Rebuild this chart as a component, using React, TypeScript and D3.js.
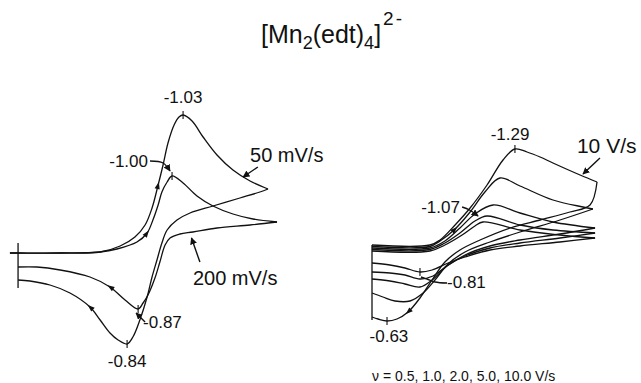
import React, { useEffect, useRef } from 'react'
import * as d3 from 'd3'

type Pt = [number, number]

// [potential (V), current (arb. units, cathodic up)]

// left panel, 50 mV/s (large wave)
const fwd50: Pt[] = [
  [-0.436, 0], [-0.464, 0], [-0.609, 0], [-0.747, 0.5], [-0.816, 3.5], [-0.867, 8],
  [-0.902, 14], [-0.926, 22.5], [-0.947, 34], [-0.964, 44], [-0.981, 55], [-1.002, 64],
  [-1.019, 68], [-1.033, 69], [-1.064, 66], [-1.102, 58], [-1.15, 49], [-1.205, 41.5],
  [-1.264, 36], [-1.326, 32],
]
const rev50: Pt[] = [
  [-1.326, 32], [-1.298, 30.5], [-1.229, 27.5], [-1.136, 23.5], [-1.057, 20], [-1.012, 16.5],
  [-0.978, 11.5], [-0.96, 5], [-0.943, -3.5], [-0.926, -12], [-0.909, -22], [-0.884, -33.5],
  [-0.86, -42], [-0.84, -45.5], [-0.809, -43.5], [-0.781, -40], [-0.747, -33.5], [-0.712, -27],
  [-0.643, -20], [-0.574, -16], [-0.505, -14], [-0.464, -13.5],
]

// left panel, 200 mV/s
const fwd200: Pt[] = [
  [-0.436, 0], [-0.464, 0], [-0.609, 0], [-0.747, 0.5], [-0.805, 2], [-0.874, 5.5],
  [-0.909, 10], [-0.929, 16.5], [-0.947, 24], [-0.96, 30.5], [-0.978, 35.5], [-0.995, 38.5],
  [-1.033, 35], [-1.081, 28.5], [-1.136, 23.5], [-1.205, 19.5], [-1.274, 17], [-1.357, 15.5],
]
const rev200: Pt[] = [
  [-1.357, 15.5], [-1.264, 14], [-1.15, 12.5], [-1.067, 10.5], [-1.022, 9.5], [-0.988, 7.5],
  [-0.971, 4], [-0.953, -4.5], [-0.936, -12.5], [-0.912, -21], [-0.895, -25], [-0.878, -28],
  [-0.833, -23.5], [-0.781, -17], [-0.712, -12], [-0.609, -8.5], [-0.529, -7], [-0.464, -7],
]

// right panel, scan rates 0.5 ... 10 V/s
const fwd10: Pt[] = [
  [-0.55, 4], [-0.847, 4], [-0.899, 6.5], [-0.976, 14], [-1.053, 22.5], [-1.14, 34],
  [-1.222, 46.5], [-1.283, 52], [-1.345, 50.5], [-1.412, 48], [-1.478, 45], [-1.617, 39],
  [-1.704, 35.5],
]
const rev10: Pt[] = [
  [-1.704, 35.5], [-1.668, 24], [-1.565, 20.5], [-1.412, 16.5], [-1.258, 12.5], [-1.104, 6.5],
  [-1.001, 1.5], [-0.924, -4.5], [-0.858, -13.5], [-0.796, -22.5], [-0.735, -29.5], [-0.678, -33],
  [-0.627, -34], [-0.581, -33], [-0.55, -32],
]
const fwd5: Pt[] = [
  [-0.55, 3.25], [-0.847, 3.25], [-0.899, 6], [-0.976, 12], [-1.053, 20.5], [-1.129, 30.5],
  [-1.206, 37.5], [-1.309, 33.5], [-1.478, 26.5], [-1.632, 23], [-1.683, 22],
]
const rev5: Pt[] = [
  [-1.683, 22], [-1.514, 16.5], [-1.309, 10.5], [-1.155, 5.5], [-1.027, 0.5], [-0.94, -5.5],
  [-0.873, -13.5], [-0.812, -20], [-0.745, -24], [-0.668, -24], [-0.606, -22], [-0.55, -20],
]
const fwd2: Pt[] = [
  [-0.55, 2.5], [-0.847, 2.5], [-0.924, 6], [-1.001, 12.5], [-1.078, 19.5], [-1.171, 24],
  [-1.309, 20], [-1.478, 15.5], [-1.694, 12.5],
]
const rev2: Pt[] = [
  [-1.694, 12.5], [-1.514, 9.5], [-1.309, 6.5], [-1.155, 3.5], [-1.027, -1], [-0.935, -6.5],
  [-0.858, -13.5], [-0.796, -17], [-0.719, -15.5], [-0.642, -14], [-0.55, -13],
]
const fwd1: Pt[] = [
  [-0.55, 1.75], [-0.847, 1.75], [-0.924, 5], [-1.001, 10], [-1.078, 16], [-1.14, 18.5],
  [-1.309, 14], [-1.478, 11.5], [-1.694, 10],
]
const rev1: Pt[] = [
  [-1.694, 10], [-1.514, 7.5], [-1.309, 5], [-1.155, 2.5], [-1.027, -1.5], [-0.94, -6],
  [-0.863, -11.5], [-0.796, -13], [-0.719, -11], [-0.642, -10], [-0.55, -9.5],
]
const fwd05: Pt[] = [
  [-0.55, 1], [-0.847, 1], [-0.924, 4], [-1.012, 9], [-1.078, 13.5], [-1.119, 15.5],
  [-1.309, 11.5], [-1.514, 9], [-1.694, 7.5],
]
const rev05: Pt[] = [
  [-1.694, 7.5], [-1.514, 5.5], [-1.309, 3.5], [-1.155, 1.5], [-1.027, -2], [-0.94, -5],
  [-0.858, -8.5], [-0.796, -9.5], [-0.719, -7.5], [-0.642, -6], [-0.55, -5],
]

// switching-potential markers
const leftStart: Pt[] = [[-0.464, 5], [-0.464, -17.5]]
const rightStart: Pt[] = [[-0.55, 4], [-0.55, -33.5]]

// peak ticks
const leftPeaks: Pt[] = [[-1.033, 69], [-0.995, 38.5], [-0.878, -28], [-0.84, -45.5]]
const rightPeaks: Pt[] = [[-1.283, 52], [-0.627, -34], [-0.796, -9.5]]

const leftLabels = [
  { at: [-1.033, 75] as Pt, text: '-1.03', anchor: 'middle', size: 17 },
  { at: [-0.912, 43] as Pt, text: '-1.00', anchor: 'end', size: 17 },
  { at: [-0.895, -37.5] as Pt, text: '-0.87', anchor: 'start', size: 17 },
  { at: [-0.84, -57] as Pt, text: '-0.84', anchor: 'middle', size: 17 },
  { at: [-1.264, 45.5] as Pt, text: '50 mV/s', anchor: 'start', size: 20 },
  { at: [-1.067, -16] as Pt, text: '200 mV/s', anchor: 'start', size: 20 },
]
const rightLabels = [
  { at: [-1.258, 56.5] as Pt, text: '-1.29', anchor: 'middle', size: 17 },
  { at: [-1.601, 50] as Pt, text: '10 V/s', anchor: 'start', size: 21 },
  { at: [-1.001, 20] as Pt, text: '-1.07', anchor: 'end', size: 17 },
  { at: [-0.935, -17.5] as Pt, text: '-0.81', anchor: 'start', size: 17 },
  { at: [-0.637, -44.5] as Pt, text: '-0.63', anchor: 'middle', size: 17 },
  { at: [-0.55, -64] as Pt, text: 'ν = 0.5, 1.0, 2.0, 5.0, 10.0 V/s', anchor: 'start', size: 14 },
]

// pointer lines from labels
const leftPointers: { pts: Pt[]; head: boolean }[] = [
  { pts: [[-0.919, 46], [-0.964, 45], [-0.988, 41]], head: true },
  { pts: [[-0.902, -34.5], [-0.871, -30]], head: true },
  { pts: [[-1.291, 43], [-1.24, 38]], head: true },
  { pts: [[-1.091, -4.5], [-1.062, 7.5]], head: true },
]
const rightPointers: { pts: Pt[]; head: boolean }[] = [
  { pts: [[-1.719, 47.5], [-1.632, 39.5]], head: true },
  { pts: [[-1.012, 23], [-1.05, 21.5], [-1.094, 18.5]], head: true },
  { pts: [[-0.935, -15], [-0.873, -14.5], [-0.832, -13], [-0.801, -12]], head: false },
]

const W = 641
const H = 383

const xLeft = d3.scaleLinear().domain([-0.45, -1.4]).range([14, 289.5])
const xRight = d3.scaleLinear().domain([-0.55, -1.75]).range([372, 606])
const y = d3.scaleLinear().domain([-60, 110]).range([373, 33])

const FONT = '"Liberation Sans", Arial, sans-serif'

export default function App() {
  const ref = useRef<SVGSVGElement>(null)

  useEffect(() => {
    const svg = d3.select(ref.current)
    svg.selectAll('*').remove()

    svg
      .append('defs')
      .append('marker')
      .attr('id', 'head')
      .attr('viewBox', '0 0 10 10')
      .attr('refX', 9)
      .attr('refY', 5)
      .attr('markerWidth', 7)
      .attr('markerHeight', 7)
      .attr('markerUnits', 'userSpaceOnUse')
      .attr('orient', 'auto')
      .append('path')
      .attr('d', 'M0,0 L10,5 L0,10 Z')
      .attr('fill', '#111')

    const panels = [
      {
        x: xLeft,
        curves: [fwd50, rev50, fwd200, rev200],
        arrows: [
          { pts: fwd50, at: 8 },
          { pts: fwd200, at: 6 },
          { pts: rev50, at: 17 },
          { pts: rev200, at: 13 },
        ],
        start: leftStart,
        peaks: leftPeaks,
        labels: leftLabels,
        pointers: leftPointers,
      },
      {
        x: xRight,
        curves: [fwd05, rev05, fwd1, rev1, fwd2, rev2, fwd5, rev5, fwd10, rev10],
        arrows: [
          { pts: fwd5, at: 3 },
          { pts: rev10, at: 10 },
        ],
        start: rightStart,
        peaks: rightPeaks,
        labels: rightLabels,
        pointers: rightPointers,
      },
    ]

    panels.forEach(p => {
      const g = svg.append('g')
      const line = d3
        .line<Pt>()
        .x(d => p.x(d[0]))
        .y(d => y(d[1]))
        .curve(d3.curveCatmullRom.alpha(0.5))

      g.selectAll('path.cv')
        .data(p.curves)
        .enter()
        .append('path')
        .attr('class', 'cv')
        .attr('d', line)
        .attr('fill', 'none')
        .attr('stroke', '#111')
        .attr('stroke-width', 1.3)
        .attr('stroke-linejoin', 'round')

      g.append('path')
        .attr('d', d3.line<Pt>().x(d => p.x(d[0])).y(d => y(d[1]))(p.start))
        .attr('stroke', '#111')
        .attr('stroke-width', 1.3)

      g.selectAll('line.peak')
        .data(p.peaks)
        .enter()
        .append('line')
        .attr('class', 'peak')
        .attr('x1', d => p.x(d[0]))
        .attr('x2', d => p.x(d[0]))
        .attr('y1', d => y(d[1]) - 4)
        .attr('y2', d => y(d[1]) + 4)
        .attr('stroke', '#111')
        .attr('stroke-width', 1.1)

      // sweep direction arrowheads on the curves
      g.selectAll('path.dir')
        .data(p.arrows)
        .enter()
        .append('path')
        .attr('class', 'dir')
        .attr('d', 'M3,0 L-4,-2.6 L-4,2.6 Z')
        .attr('fill', '#111')
        .attr('transform', a => {
          const c = a.pts[a.at]
          const prev = a.pts[a.at - 1]
          const next = a.pts[a.at + 1]
          const ang =
            (Math.atan2(y(next[1]) - y(prev[1]), p.x(next[0]) - p.x(prev[0])) * 180) / Math.PI
          return `translate(${p.x(c[0])},${y(c[1])}) rotate(${ang})`
        })

      const ptrLine = d3
        .line<Pt>()
        .x(d => p.x(d[0]))
        .y(d => y(d[1]))
        .curve(d3.curveCatmullRom.alpha(0.5))

      g.selectAll('path.ptr')
        .data(p.pointers)
        .enter()
        .append('path')
        .attr('class', 'ptr')
        .attr('d', d => ptrLine(d.pts))
        .attr('fill', 'none')
        .attr('stroke', '#111')
        .attr('stroke-width', 1.4)
        .attr('marker-end', d => (d.head ? 'url(#head)' : null))

      g.selectAll('text.lbl')
        .data(p.labels)
        .enter()
        .append('text')
        .attr('class', 'lbl')
        .attr('x', d => p.x(d.at[0]))
        .attr('y', d => y(d.at[1]))
        .attr('text-anchor', d => d.anchor)
        .attr('font-size', d => d.size)
        .attr('font-family', FONT)
        .attr('fill', '#111')
        .text(d => d.text)
    })

    // title [Mn2(edt)4]2-
    const title = svg
      .append('text')
      .attr('x', 261)
      .attr('y', 43)
      .attr('font-family', FONT)
      .attr('font-size', 25)
      .attr('fill', '#111')
    title.append('tspan').text('[Mn')
    title.append('tspan').attr('dy', 6).attr('font-size', 18).text('2')
    title.append('tspan').attr('dy', -6).text('(edt)')
    title.append('tspan').attr('dy', 6).attr('font-size', 18).text('4')
    title.append('tspan').attr('dy', -6).text(']')
    title
      .append('tspan')
      .attr('dy', -18)
      .attr('dx', 2)
      .attr('font-size', 19)
      .attr('letter-spacing', 2)
      .text('2-')
  }, [])

  return (
    <svg
      ref={ref}
      width={W}
      height={H}
      style={{ position: 'absolute', left: 0, top: 0, background: '#fff' }}
    />
  )
}
